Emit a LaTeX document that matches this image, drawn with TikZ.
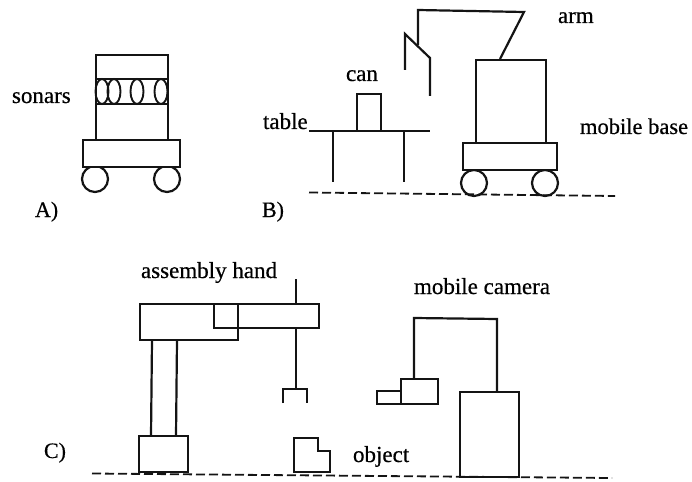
\documentclass[tikz,border=0pt]{standalone}
\usepackage{fontspec}
\setmainfont[FakeBold=0.5]{Liberation Serif}
\tikzset{
  ink/.style={draw=black!92, line width=2.2pt, line join=miter},
  thin ink/.style={draw=black!92, line width=1.9pt},
  ground/.style={draw=black!92, line width=1.8pt, dash pattern=on 9pt off 4pt},
  lab/.style={anchor=base west, inner sep=0pt, outer sep=0pt, text=black, font=\fontsize{23}{25}\selectfont},
  panel/.style={anchor=base west, inner sep=0pt, outer sep=0pt, text=black, font=\fontsize{22}{24}\selectfont},
}
\begin{document}
\begin{tikzpicture}[x=1pt,y=-1pt]
\useasboundingbox (0,0) rectangle (692,481);
% --- A ---
\draw[ink] (95,179) circle[radius=13pt];
\draw[ink] (167,179) circle[radius=13pt];
\draw[ink,fill=white] (83,140) rectangle (180,167);
\draw[ink] (96,55) rectangle (168,140);
\draw[ink] (96,79) -- (168,79);
\draw[ink] (96,104) -- (168,104);
\foreach \cx in {102,114,137,161}
  \draw[thin ink] (\cx,91.5) ellipse[x radius=6.5pt,y radius=12.5pt];
\node[lab] (sonars) at (12,103) {sonars};
\node[panel] (labA) at (35,217) {A)};
% --- B ---
\draw[ink] (474,183) circle[radius=13pt];
\draw[ink] (545,183) circle[radius=13pt];
\draw[ink,fill=white] (463,143) rectangle (557,170);
\draw[ink] (476,60) rectangle (546,143);
\draw[ink] (500,59) -- (524,12) -- (418,10) -- (418,45);
\draw[ink] (405,70) -- (405,34) -- (430,58) -- (430,96);
\draw[ink] (357,131) -- (357,94) -- (381,94) -- (381,131);
\draw[ink] (309,131) -- (430,131);
\draw[ink] (333,131) -- (333,182);
\draw[ink] (404,131) -- (404,182);
\draw[ground] (309,192.5) -- (615,196);
\node[lab] (can) at (346,81) {can};
\node[lab] (tablelab) at (263,129) {table};
\node[lab] (arm) at (558,23) {arm};
\node[lab,font=\fontsize{22.5}{25}\selectfont] (mbase) at (580,134) {mobile base};
\node[panel] (labB) at (262,217) {B)};
% --- C ---
\draw[ink] (296,279) -- (296,304);
\draw[ink] (296,328) -- (296,389);
\draw[ink] (283,403) -- (283,389) -- (307,389) -- (307,403);
\draw[ink] (140,304) rectangle (238,340);
\draw[ink] (214,304) rectangle (319,328);
\draw[ink] (152,340) -- (151,436);
\draw[ink] (177,340) -- (176,436);
\draw[ink] (139,436) rectangle (188,472);
\draw[ink] (294,472) -- (294,438) -- (318,438) -- (318,451) -- (330,451) -- (330,472) -- cycle;
\draw[ground] (92,473.5) -- (612,478);
\node[lab] (hand) at (141,278) {assembly hand};
\node[lab] (object) at (353,462) {object};
\node[panel] (labC) at (44,458) {C)};
% --- camera ---
\draw[ink] (414,379) -- (414,318) -- (497,319) -- (497,392);
\draw[ink] (460,392) rectangle (519,477);
\draw[ink] (401,379) rectangle (438,404);
\draw[ink] (377,391) rectangle (401,404);
\node[lab] (cam) at (414,294) {mobile camera};
\end{tikzpicture}
\end{document}
